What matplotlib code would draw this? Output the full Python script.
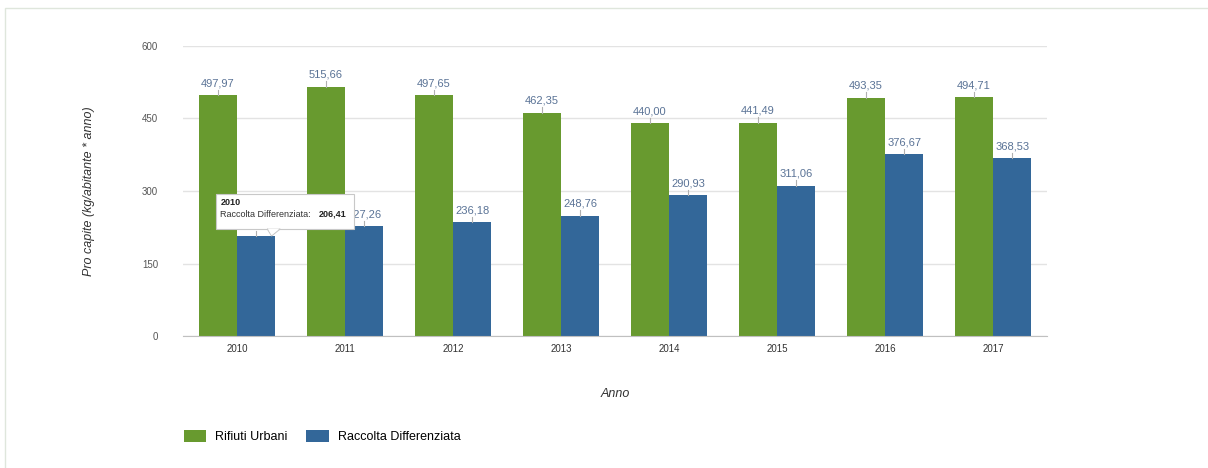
import numpy as np
import matplotlib.pyplot as plt
from matplotlib.patches import Rectangle, Polygon

plt.rcParams['font.family'] = ['Liberation Sans', 'DejaVu Sans']

# data
anni = ['2010', '2011', '2012', '2013', '2014', '2015', '2016', '2017']
rifiuti_urbani = [497.97, 515.66, 497.65, 462.35, 440.00, 441.49, 493.35, 494.71]
raccolta_diff = [206.41, 227.26, 236.18, 248.76, 290.93, 311.06, 376.67, 368.53]
y_ticks = [0, 150, 300, 450, 600]

green = '#689a2f'
blue = '#336799'
label_col = '#5a7396'

fig = plt.figure(figsize=(12.08, 4.68), dpi=100)
# light frame around the whole chart
fig.patches.append(Rectangle((0.004, -0.02), 1.2, 1.003, transform=fig.transFigure,
                             fill=False, edgecolor='#dfe6dc', linewidth=1.0))

ax = fig.add_axes([0.1515, 0.282, 0.7152, 0.6198])
x = np.arange(len(anni))
w = 0.355
b1 = ax.bar(x - w / 2, rifiuti_urbani, w, color=green, zorder=2, label='Rifiuti Urbani')
b2 = ax.bar(x + w / 2, raccolta_diff, w, color=blue, zorder=2, label='Raccolta Differenziata')


def fmt(v):
    return f'{v:.2f}'.replace('.', ',')


# value labels with little connector line
for bars, vals in [(b1, rifiuti_urbani), (b2, raccolta_diff)]:
    for r, v in zip(bars, vals):
        cx = r.get_x() + r.get_width() / 2
        ax.plot([cx, cx], [v, v + 11], color='#b0b0b0', lw=0.8, zorder=3)
        ax.text(cx, v + 14, fmt(v), ha='center', va='bottom', fontsize=8,
                color=label_col, zorder=3)

ax.set_xlim(-0.5, len(anni) - 0.5)
ax.set_ylim(0, 600)
ax.set_yticks(y_ticks)
ax.set_xticks(x)
ax.set_xticklabels(anni)
ax.grid(axis='y', color='#e3e3e3', lw=1, zorder=0)
for s in ['top', 'right', 'left']:
    ax.spines[s].set_visible(False)
ax.spines['bottom'].set_color('#c0c0c0')
ax.tick_params(axis='y', length=0, labelsize=7, labelcolor='#555555', pad=18)
ax.tick_params(axis='x', length=0, labelsize=7, labelcolor='#333333', pad=6)
ax.set_xlabel('Anno', fontsize=9, style='italic', color='#333333', labelpad=24)
ax.set_ylabel('Pro capite (kg/abitante * anno)', fontsize=9, style='italic',
              color='#333333', labelpad=34)

# tooltip over the 2010 blue bar
tx0, tx1 = -0.195, 1.085
ty0, ty1 = 221, 294
ax.add_patch(Rectangle((tx0, ty0), tx1 - tx0, ty1 - ty0, facecolor='white',
                       edgecolor='#c8c8c8', lw=0.8, zorder=5))
ax.add_patch(Polygon([[0.28, ty0 + 0.5], [0.40, ty0 + 0.5], [0.32, ty0 - 14]],
                     closed=True, facecolor='white', edgecolor='#c8c8c8', lw=0.8, zorder=5))
ax.add_patch(Polygon([[0.285, ty0 + 1.5], [0.395, ty0 + 1.5], [0.32, ty0 - 12]],
                     closed=True, facecolor='white', edgecolor='none', zorder=6))
ax.text(tx0 + 0.04, ty1 - 9, anni[0], fontsize=6.5, fontweight='bold', va='top',
        color='#222222', zorder=7)
ax.text(tx0 + 0.04, ty1 - 42, 'Raccolta Differenziata:', fontsize=6.5, va='center',
        color='#333333', zorder=7)
ax.text(tx1 - 0.07, ty1 - 42, fmt(raccolta_diff[0]), fontsize=6.5, va='center', ha='right',
        fontweight='bold', color='#222222', zorder=7)

# legend
ax.legend(handles=[b1, b2], loc='upper left', bbox_to_anchor=(-0.012, -0.285),
          ncol=2, frameon=False, fontsize=9, handlelength=1.8, handleheight=1.1,
          columnspacing=1.5, handletextpad=0.7)

fig.savefig('out.png', dpi=100)
